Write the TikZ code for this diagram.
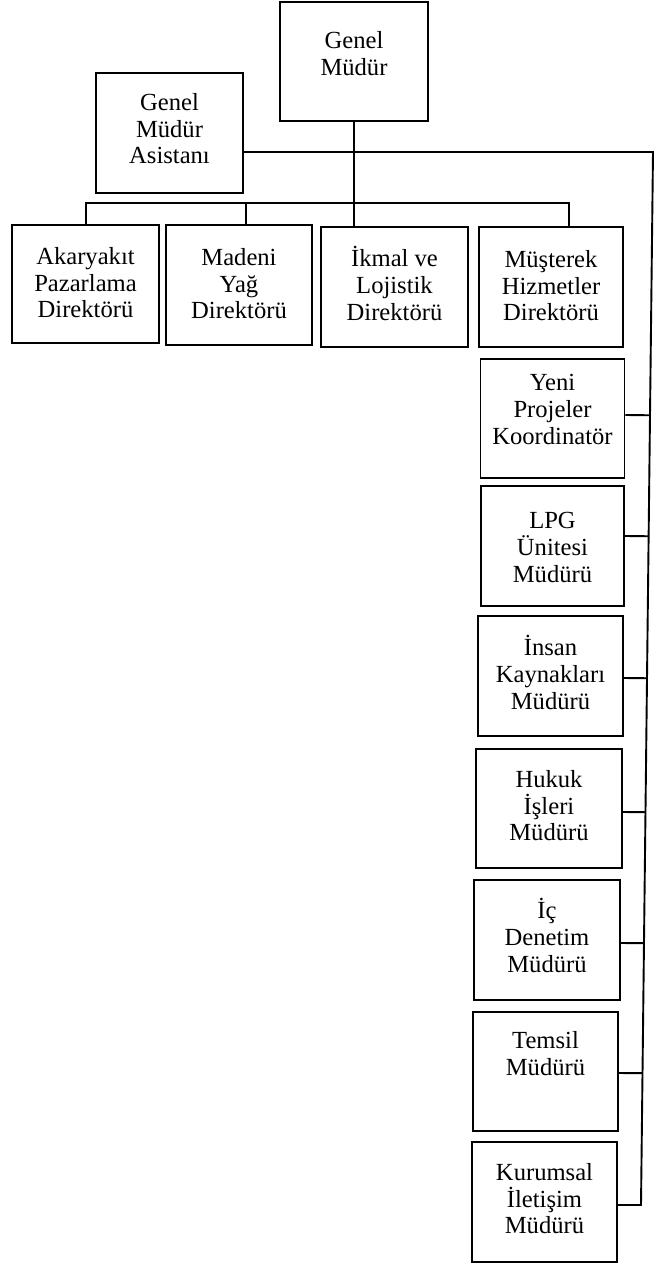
\documentclass[tikz,border=0pt]{standalone}
\usepackage{fontspec}
\setmainfont{Liberation Serif}
\usetikzlibrary{calc}
\begin{document}
\begin{tikzpicture}[x=1pt,y=-1pt,
  box/.style={draw, line width=1.9pt, minimum width=146pt, minimum height=120pt, inner sep=0pt},
  lbl/.style={align=center, inner sep=0pt, anchor=north, font=\fontsize{24.6}{26.8}\selectfont},
  conn/.style={line width=1.9pt}]
\useasboundingbox[fill=white] (0,0) rectangle (661,1263);
% top
\node[box, minimum width=148pt, minimum height=119pt] (gm) at (354,61.5) {};
\node[lbl] (gmt) at ([yshift=-30pt]gm.north) {Genel\\Müdür};
\node[box, minimum width=147pt] (gma) at (169.5,133) {};
\node[lbl] (gmat) at ([yshift=-21pt]gma.north) {Genel\\Müdür\\Asistanı};
% directors
\node[box, minimum width=147pt, minimum height=118pt] (ak) at (85.5,284) {};
\node[lbl] (akt) at ([yshift=-23pt]ak.north) {Akaryakıt\\Pazarlama\\Direktörü};
\node[box] (ma) at (239,285) {};
\node[lbl] (mat) at ([yshift=-24pt]ma.north) {Madeni\\Yağ\\Direktörü};
\node[box, minimum width=147pt] (ik) at (394.5,287) {};
\node[lbl] (ikt) at ([yshift=-20pt]ik.north) {İkmal ve\\Lojistik\\Direktörü};
\node[box, minimum width=144pt] (mu) at (551,287) {};
\node[lbl] (mut) at ([yshift=-24pt]mu.north) {Müşterek\\Hizmetler\\Direktörü};
% right column
\node[box, minimum width=144pt, minimum height=119pt] (yp) at (552.5,418.5) {};
\node[lbl] (ypt) at ([yshift=-16pt]yp.north) {Yeni\\Projeler\\Koordinatör};
\node[box, minimum width=143pt] (lpg) at (552.5,546) {};
\node[lbl] (lpgt) at ([yshift=-27pt]lpg.north) {LPG\\Ünitesi\\Müdürü};
\node[box, minimum width=145pt] (ins) at (550.5,676) {};
\node[lbl] (inst) at ([yshift=-20pt]ins.north) {İnsan\\Kaynakları\\Müdürü};
\node[box, minimum height=119pt] (hu) at (549,808.5) {};
\node[lbl] (hut) at ([yshift=-22pt]hu.north) {Hukuk\\İşleri\\Müdürü};
\node[box] (ic) at (547,940) {};
\node[lbl] (ict) at ([yshift=-19pt]ic.north) {İç\\Denetim\\Müdürü};
\node[box, minimum width=145pt, minimum height=119pt] (te) at (545.5,1071.5) {};
\node[lbl] (tet) at ([yshift=-20pt]te.north) {Temsil\\Müdürü};
\node[box, minimum width=145pt] (ku) at (544.5,1202) {};
\node[lbl] (kut) at ([yshift=-22pt]ku.north) {Kurumsal\\İletişim\\Müdürü};
% connectors
\coordinate (bustop) at (653,152);
\coordinate (busbot) at (641,1205);
\coordinate (barL) at (86,203);
\coordinate (barR) at (569,203);
\coordinate (dma) at (246,203);
\draw[conn] (gm.south) -- (gm.south |- ik.north);
\draw[conn] (ak.north -| barL) -- (barL) -- (barR) -- (barR |- mu.north);
\draw[conn] (dma) -- (dma |- ma.north);
\draw[conn] (gma.east |- bustop) -- (bustop) -- (busbot) -- (busbot -| ku.east);
\foreach \n/\dy in {yp/3.5, lpg/10, ins/-2, hu/-3.5, ic/-3, te/-1.5}
  \draw[conn] ([yshift=\dy pt]\n.east) -- ($(bustop)!([yshift=\dy pt]\n.east)!(busbot)$);
\end{tikzpicture}
\end{document}
